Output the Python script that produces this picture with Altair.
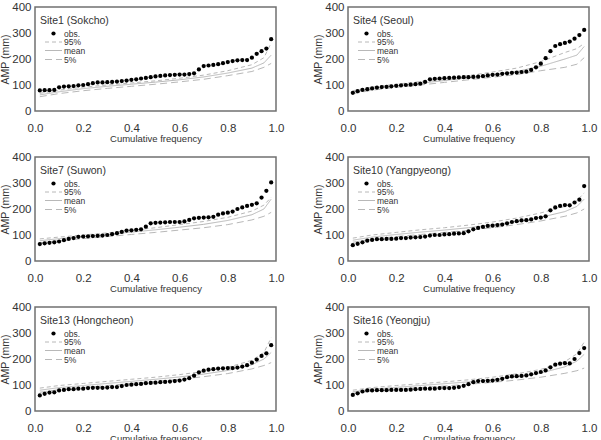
import altair as alt
import pandas as pd

CUM_FREQ = [0.02, 0.04, 0.06, 0.08, 0.10, 0.12, 0.14, 0.16, 0.18, 0.20,
            0.22, 0.24, 0.26, 0.28, 0.30, 0.32, 0.34, 0.36, 0.38, 0.40,
            0.42, 0.44, 0.46, 0.48, 0.50, 0.52, 0.54, 0.56, 0.58, 0.60,
            0.62, 0.64, 0.66, 0.68, 0.70, 0.72, 0.74, 0.76, 0.78, 0.80,
            0.82, 0.84, 0.86, 0.88, 0.90, 0.92, 0.94, 0.96, 0.98]
LINE_FREQ = [0.02, 0.1, 0.2, 0.3, 0.4, 0.5, 0.6, 0.7, 0.8, 0.9, 0.95, 0.98]

SITE_NAMES = ["Site1 (Sokcho)", "Site4 (Seoul)", "Site7 (Suwon)",
              "Site10 (Yangpyeong)", "Site13 (Hongcheon)", "Site16 (Yeongju)"]

OBS_1 = [79, 80, 80, 81, 91, 94, 95, 96, 99, 100,
         103, 107, 110, 110, 111, 112, 113, 115, 117, 120,
         122, 125, 127, 130, 133, 135, 137, 138, 139, 140,
         140, 142, 145, 160, 173, 175, 177, 180, 184, 188,
         192, 195, 196, 196, 205, 220, 230, 240, 276]
OBS_4 = [70, 76, 81, 84, 87, 90, 92, 93, 95, 97,
         99, 100, 101, 103, 105, 112, 122, 124, 125, 126,
         127, 128, 129, 130, 130, 131, 132, 134, 137, 139,
         140, 143, 145, 147, 148, 150, 151, 158, 168, 182,
         203, 230, 250, 257, 262, 267, 278, 292, 312]
OBS_7 = [65, 68, 70, 72, 75, 80, 85, 88, 93, 94,
         95, 96, 97, 98, 100, 103, 107, 112, 117, 118,
         120, 122, 132, 145, 147, 148, 149, 150, 150, 150,
         152, 158, 164, 166, 167, 168, 170, 178, 183, 186,
         190, 200, 206, 212, 216, 222, 244, 270, 302]
OBS_10 = [61, 66, 72, 78, 81, 84, 84, 85, 85, 86,
          88, 88, 90, 91, 92, 94, 98, 100, 100, 102,
          103, 105, 106, 107, 114, 122, 127, 131, 135, 136,
          138, 140, 145, 150, 153, 156, 157, 160, 165, 167,
          172, 195, 206, 212, 215, 214, 225, 236, 288]
OBS_13 = [60, 66, 71, 72, 79, 81, 84, 84, 86, 86,
          88, 89, 89, 89, 90, 92, 92, 96, 100, 101,
          103, 104, 107, 108, 109, 111, 112, 113, 115, 117,
          121, 126, 136, 149, 155, 159, 161, 163, 164, 165,
          165, 167, 171, 176, 186, 198, 212, 222, 253]
OBS_16 = [62, 68, 75, 79, 79, 80, 80, 80, 81, 81,
          81, 81, 82, 84, 85, 86, 86, 86, 88, 88,
          88, 89, 92, 97, 103, 111, 115, 115, 116, 117,
          120, 124, 130, 133, 134, 135, 137, 141, 146, 150,
          156, 168, 178, 182, 184, 183, 200, 223, 242]

Q95_1 = [68, 80, 92, 100, 108, 116, 126, 138, 155, 178, 205, 262]
MEAN_1 = [62, 74, 86, 95, 103, 111, 120, 131, 146, 165, 185, 215]
Q5_1 = [55, 67, 78, 87, 95, 103, 112, 122, 136, 152, 168, 183]

Q95_4 = [78, 92, 103, 113, 124, 136, 150, 165, 190, 225, 240, 260]
MEAN_4 = [72, 86, 97, 107, 117, 128, 140, 152, 172, 200, 215, 248]
Q5_4 = [66, 80, 91, 100, 110, 120, 130, 140, 155, 168, 180, 205]

Q95_7 = [85, 92, 100, 108, 118, 128, 140, 152, 168, 192, 215, 245]
MEAN_7 = [78, 86, 94, 102, 111, 120, 130, 141, 156, 178, 200, 238]
Q5_7 = [70, 78, 86, 94, 102, 110, 119, 128, 140, 158, 172, 187]

Q95_10 = [88, 100, 110, 120, 128, 138, 150, 165, 185, 210, 232, 262]
MEAN_10 = [80, 92, 102, 111, 119, 128, 139, 152, 168, 190, 210, 238]
Q5_10 = [72, 84, 94, 102, 110, 118, 128, 140, 154, 172, 185, 200]

Q95_13 = [88, 98, 106, 114, 122, 130, 140, 152, 168, 195, 225, 282]
MEAN_13 = [80, 90, 98, 106, 114, 122, 131, 142, 156, 178, 200, 225]
Q5_13 = [72, 82, 90, 98, 106, 114, 122, 132, 144, 162, 175, 186]

Q95_16 = [80, 90, 98, 105, 112, 120, 130, 143, 160, 190, 220, 265]
MEAN_16 = [74, 84, 91, 98, 105, 112, 121, 132, 146, 170, 192, 218]
Q5_16 = [68, 77, 84, 90, 96, 103, 110, 119, 130, 145, 155, 165]

SERIES = ["95%", "mean", "5%"]
X_TICKS = [0.0, 0.2, 0.4, 0.6, 0.8, 1.0]
Y_TICKS = [0, 100, 200, 300, 400]

FONT = "Arial, Liberation Sans, sans-serif"
TXT = "#333333"
LINE_COL = "#b8b8b8"
DASH_95 = [4, 3]
DASH_5 = [7, 4]

ONE = pd.DataFrame({"k": [0]})


def panel(name, obs, q95, qmean, q5):
    pts = pd.DataFrame({"f": CUM_FREQ, "amp": obs})
    n = len(LINE_FREQ)
    lines = pd.DataFrame({
        "f": LINE_FREQ * 3,
        "amp": q95 + qmean + q5,
        "series": ["95%"] * n + ["mean"] * n + ["5%"] * n,
    })
    x = alt.X("f:Q", scale=alt.Scale(domain=[0, 1], nice=False),
              axis=alt.Axis(title="Cumulative frequency", values=X_TICKS, format=".1f"))
    y = alt.Y("amp:Q", scale=alt.Scale(domain=[0, 400], nice=False),
              axis=alt.Axis(title="AMP (mm)", values=Y_TICKS))
    line_layer = alt.Chart(lines).mark_line(color=LINE_COL, strokeWidth=1).encode(
        x=x, y=y, detail="series:N",
        strokeDash=alt.StrokeDash("series:N", legend=None,
                                  scale=alt.Scale(domain=SERIES, range=[DASH_95, [1, 0], DASH_5])),
    )
    pts_layer = alt.Chart(pts).mark_circle(color="black", size=18, opacity=1).encode(x=x, y=y)

    leg = [
        alt.Chart(ONE).mark_text(text=name, align="left", baseline="middle", font=FONT,
                                 fontSize=10.5, color=TXT).encode(x=alt.value(5), y=alt.value(14)),
        alt.Chart(ONE).mark_circle(color="black", size=18, opacity=1).encode(
            x=alt.value(18.5), y=alt.value(26.5)),
        alt.Chart(ONE).mark_rule(color=LINE_COL, strokeWidth=1, strokeDash=DASH_95).encode(
            x=alt.value(10), x2=alt.value(27), y=alt.value(35)),
        alt.Chart(ONE).mark_rule(color=LINE_COL, strokeWidth=1).encode(
            x=alt.value(10), x2=alt.value(27), y=alt.value(43.5)),
        alt.Chart(ONE).mark_rule(color=LINE_COL, strokeWidth=1, strokeDash=DASH_5).encode(
            x=alt.value(10), x2=alt.value(27), y=alt.value(52.5)),
    ]
    for lab, yy in zip(["obs."] + SERIES, [26.5, 35, 43.5, 52.5]):
        leg.append(alt.Chart(ONE).mark_text(text=lab, align="left", baseline="middle", font=FONT,
                                            fontSize=8.5, color=TXT).encode(
            x=alt.value(29), y=alt.value(yy)))
    return alt.layer(line_layer, pts_layer, *leg).properties(width=241, height=104)


p = [
    panel(SITE_NAMES[0], OBS_1, Q95_1, MEAN_1, Q5_1),
    panel(SITE_NAMES[1], OBS_4, Q95_4, MEAN_4, Q5_4),
    panel(SITE_NAMES[2], OBS_7, Q95_7, MEAN_7, Q5_7),
    panel(SITE_NAMES[3], OBS_10, Q95_10, MEAN_10, Q5_10),
    panel(SITE_NAMES[4], OBS_13, Q95_13, MEAN_13, Q5_13),
    panel(SITE_NAMES[5], OBS_16, Q95_16, MEAN_16, Q5_16),
]

chart = alt.concat(
    *p, columns=2, spacing={"row": 46, "column": 72}, bounds="flush"
).properties(
    padding={"left": 0, "top": 0, "right": 0, "bottom": 0}
).configure(
    background="white"
).configure_view(
    stroke="#707070", strokeWidth=1.5
).configure_axis(
    grid=False, ticks=False, domain=False, labelFlush=False,
    labelFont=FONT, titleFont=FONT, labelColor=TXT, titleColor=TXT,
    labelFontSize=11.5, titleFontWeight="normal",
).configure_axisX(
    labelPadding=11, titlePadding=0, titleFontSize=9.5,
).configure_axisY(
    labelPadding=4, titlePadding=1, titleFontSize=10.5,
)

chart.save("out.html", embed_options={"renderer": "svg", "actions": False})
